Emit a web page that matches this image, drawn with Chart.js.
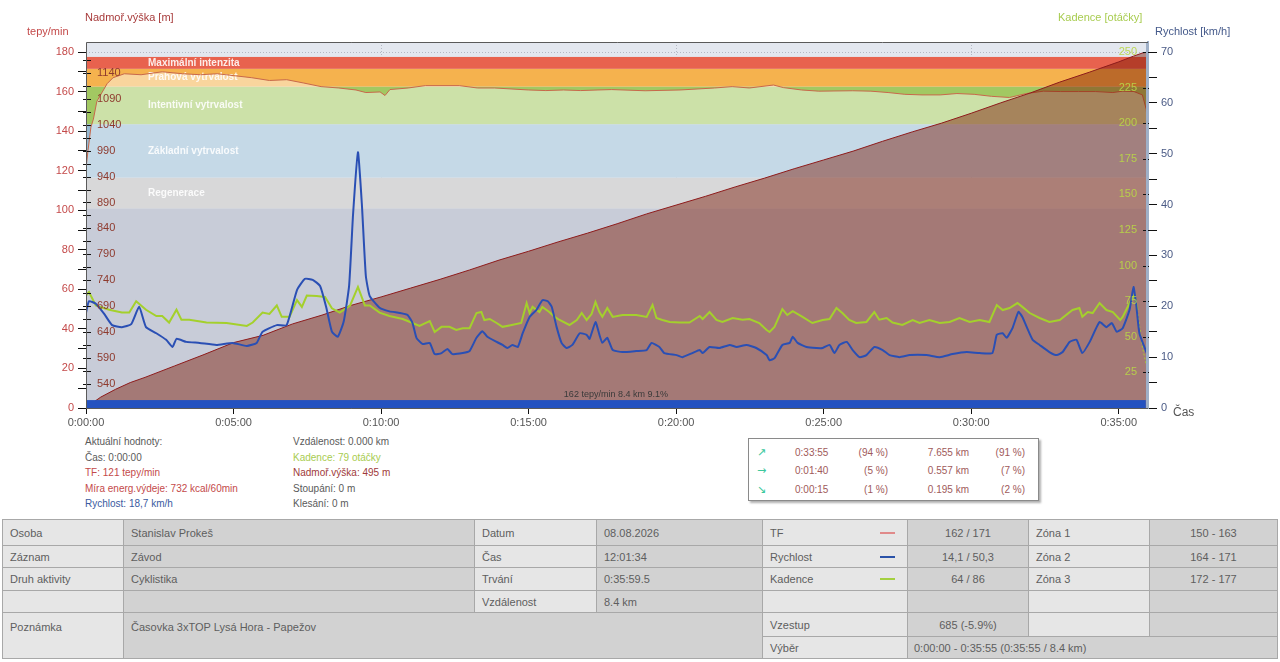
<!DOCTYPE html>
<html lang="cs">
<head>
<meta charset="utf-8">
<title>Záznam - Časovka 3xTOP Lysá Hora - Papežov</title>
<script src="https://cdn.jsdelivr.net/npm/chart.js@4.4.0/dist/chart.umd.min.js"></script>
<style>
  body { margin: 0; background: #fff; font-family: "Liberation Sans", Arial, sans-serif; }
  #wrap { position: relative; width: 1280px; height: 662px; overflow: hidden; }
  #chart { position: absolute; left: 0; top: 0; }
  .info { position: absolute; top: 434px; font-size: 10px; line-height: 15.5px; color: #5a5a5a; white-space: nowrap; }
  .red { color: #c44a4a; }
  .dred { color: #a03a3a; }
  .blue { color: #3a5aa0; }
  .green { color: #a8cc50; }
  #box { position: absolute; left: 748px; top: 438px; width: 289px; height: 61px; border: 1px solid #8a8a8a; box-shadow: 2px 2px 2px #b0b0b0; font-size: 10px; color: #a05a5a; }
  #box .r { position: absolute; left: 0; width: 100%; height: 18px; line-height: 18px; }
  #box span { position: absolute; white-space: nowrap; }
  #box .ar { left: 8px; color: #3cc89c; font-family: "DejaVu Sans", sans-serif; font-size: 11px; }
  #tbl { position: absolute; left: 2px; top: 519px; width: 1275px; border-collapse: collapse; table-layout: fixed; font-size: 11px; color: #5e5e5e; border: 1px solid #8e8e8e; }
  #tbl td { border: 1px solid #a8a8a8; padding: 0 0 0 7px; white-space: nowrap; overflow: hidden; }
  #tbl .l { background: #e6e6e6; }
  #tbl .v { background: #d2d2d2; }
  #tbl .c { text-align: center; padding-left: 0; }
  #tbl .top { vertical-align: top; padding-top: 8px; }
  .sw { position: relative; }
  .sw i { position: absolute; right: 12px; top: 50%; width: 15px; height: 2px; margin-top: -1px; }
</style>
</head>
<body>
<div id="wrap">
  <canvas id="chart" width="1280" height="432"></canvas>

  <div class="info" style="left:85px">
    <div>Aktuální hodnoty:</div>
    <div>Čas: 0:00:00</div>
    <div class="red">TF: 121 tepy/min</div>
    <div class="red">Míra energ.výdeje: 732 kcal/60min</div>
    <div class="blue">Rychlost: 18,7 km/h</div>
  </div>
  <div class="info" style="left:293px">
    <div>Vzdálenost: 0.000 km</div>
    <div class="green">Kadence: 79 otáčky</div>
    <div class="dred">Nadmoř.výška: 495 m</div>
    <div>Stoupání: 0 m</div>
    <div>Klesání: 0 m</div>
  </div>

  <div id="box">
    <div class="r" style="top:5px"><span class="ar">↗</span><span style="left:46px">0:33:55</span><span style="right:150px">(94 %)</span><span style="right:69px">7.655 km</span><span style="right:13px">(91 %)</span></div>
    <div class="r" style="top:23px"><span class="ar">→</span><span style="left:46px">0:01:40</span><span style="right:150px">(5 %)</span><span style="right:69px">0.557 km</span><span style="right:13px">(7 %)</span></div>
    <div class="r" style="top:42px"><span class="ar">↘</span><span style="left:46px">0:00:15</span><span style="right:150px">(1 %)</span><span style="right:69px">0.195 km</span><span style="right:13px">(2 %)</span></div>
  </div>

  <table id="tbl">
    <colgroup>
      <col style="width:121px"><col style="width:351px"><col style="width:122px"><col style="width:166px">
      <col style="width:145px"><col style="width:121px"><col style="width:121px"><col style="width:128px">
    </colgroup>
    <tr style="height:26px">
      <td class="l">Osoba</td><td class="v">Stanislav Prokeš</td><td class="l">Datum</td><td class="v">08.08.2026</td>
      <td class="l sw">TF<i style="background:#e08a8a"></i></td><td class="v c">162 / 171</td><td class="l">Zóna 1</td><td class="v c">150 - 163</td>
    </tr>
    <tr style="height:22px">
      <td class="l">Záznam</td><td class="v">Závod</td><td class="l">Čas</td><td class="v">12:01:34</td>
      <td class="l sw">Rychlost<i style="background:#2a52a8"></i></td><td class="v c">14,1 / 50,3</td><td class="l">Zóna 2</td><td class="v c">164 - 171</td>
    </tr>
    <tr style="height:23px">
      <td class="l">Druh aktivity</td><td class="v">Cyklistika</td><td class="l">Trvání</td><td class="v">0:35:59.5</td>
      <td class="l sw">Kadence<i style="background:#a4d040"></i></td><td class="v c">64 / 86</td><td class="l">Zóna 3</td><td class="v c">172 - 177</td>
    </tr>
    <tr style="height:22px">
      <td class="l"></td><td class="v"></td><td class="l">Vzdálenost</td><td class="v">8.4 km</td>
      <td class="l"></td><td class="v"></td><td class="l"></td><td class="v"></td>
    </tr>
    <tr style="height:24px">
      <td class="l top" rowspan="2">Poznámka</td><td class="v top" colspan="3" rowspan="2">Časovka 3xTOP Lysá Hora - Papežov</td>
      <td class="l">Vzestup</td><td class="v c">685 (-5.9%)</td><td class="l"></td><td class="v"></td>
    </tr>
    <tr style="height:22px">
      <td class="l">Výběr</td><td class="v" colspan="3" style="padding-left:6px">0:00:00 - 0:35:55 (0:35:55 / 8.4 km)</td>
    </tr>
  </table>
</div>

<script>
// Tepová frekvence (čas v sekundách, tepy/min)
const hrTime = [0,4,10,15,22,29,43,55,78,112,155,196,233,267,302,337,373,408,443,478,514,549,569,598,608,618,655,690,759,796,831,900,935,971,1006,1041,1069,1137,1208,1278,1314,1349,1398,1418,1455,1490,1559,1596,1631,1665,1700,1737,1771,1806,1841,1878,1912,1947,1982,2018,2053,2088,2108,2131,2148,2156,2159];
const hrBpm = [121,130,142,146,155,158,164,167,169,168.5,170,169,168.5,169,168,167,165.6,166,164.3,162.5,161.8,160.8,159.5,159.8,158,161,161.8,163,163,161.8,161.8,160.8,160.5,160.8,160.5,160.8,161,160.4,160.8,161.8,162.5,161.8,163.3,162,160.8,160.2,160.4,160.2,159.5,158.6,158.3,158.3,159,158.6,157.6,157,159,160.2,160,160,160,159.5,160.2,160,158.3,151,140];

// Rychlost (km/h)
const speedTime = [0,6,20,37,53,73,92,108,122,143,163,176,184,204,231,265,298,327,347,359,388,408,429,445,461,476,488,500,512,524,535,543,553,561,569,
    577,597,617,638,654,664,672,684,699,709,723,735,745,766,780,794,806,816,835,847,857,867,878,888,902,916,928,939,947,957,
    967,977,989,1004,1018,1024,1036,1044,1050,1060,1071,1091,1119,1140,1150,1166,1176,1201,1213,1233,1248,1254,1268,1288,1309,1323,1343,1363,1384,1390,
    1400,1416,1431,1437,1447,1465,1485,1498,1512,1522,1532,1547,1559,1573,1587,1603,1620,1634,1654,1675,1709,1736,1762,1791,1817,1843,1852,1864,1872,1884,
    1896,1904,1913,1925,1939,1959,1974,1986,2000,2014,2026,2041,2061,2075,2086,2096,2108,2122,2130,2136,2142,2157];
const speedKmh = [18.7,21,20.5,18.5,16.3,15.9,16.5,19.9,15.9,14.7,13.4,12.0,13.6,13.0,12.8,12.4,12.8,12.2,12.8,15,16.3,16.3,23.2,25.4,25.2,24,20,15,14,17,24,38,50.3,40,26,
    22,19.7,19,18.7,18.3,16.7,13.8,12.6,12.8,10.6,10.8,11.6,10.6,10.8,11.2,13.8,15.1,14,13,12.4,11.8,12.4,12,14.7,17.9,19.3,21.2,21,19.9,15.9,
    12.8,11.8,12.4,14.7,14.4,13.6,16.9,14.4,12.8,13.8,11.4,11,11.2,11.4,12.8,12,10.8,10.4,10,10.8,11.4,10.8,12,11.8,12.4,12,12.4,11.8,10.4,9.4,
    9.8,12.4,12.8,14,12.8,12,11.8,11.8,12.4,10.8,12.4,13,11.4,10,10.4,12,11.4,10.4,10,10.4,10.4,10,10.6,11,10.8,10.8,14.4,14.7,13.8,15.7,
    18.9,17.9,15.9,13.4,12.4,11,10.4,11,13,13.4,10.8,13,16.9,15.9,16.7,15,15.7,19.3,23.8,19.9,14.7,10.8];

// Kadence (otáčky)
const cadTime = [0,6,20,47,73,88,102,122,143,155,169,184,194,210,245,286,327,339,359,373,388,398,414,429,439,449,469,486,500,516,537,553,567,
    577,597,617,644,664,678,699,709,723,739,753,766,780,794,804,810,821,835,847,861,885,896,902,908,922,928,942,953,963,983,
    998,1008,1018,1028,1036,1044,1050,1060,1071,1091,1119,1140,1152,1160,1172,1187,1207,1227,1248,1254,1268,1282,1294,1315,1335,1349,1369,1384,1390,1400,
    1416,1426,1437,1457,1477,1498,1512,1526,1538,1552,1566,1587,1603,1613,1628,1640,1660,1681,1695,1715,1736,1756,1776,1797,1817,1837,1852,1864,1878,1894,
    1904,1919,1939,1959,1980,2006,2020,2026,2037,2047,2061,2075,2088,2103,2108,2122,2132,2138,2148,2157];
const cadRpm = [79,81.5,72,69,67,67,75,69,64.6,64.6,60,69,62,62,60,59.7,57.6,60,67,66,72,64,64,75.8,71,79,78.7,78,70,67,72,85,72,
    72,67,64.6,62.5,59.7,57.6,61,53.4,57,57,54.8,56,56,66.7,67.4,61.8,62.5,59.7,57,58,59.7,73.7,66.7,71,67.4,71,67.4,64,61.8,58.3,
    61.8,66.7,61.8,66,74.4,67.4,64,70.2,64,65.3,65.3,64,72.3,63.2,61.8,60.4,60,60,64.6,62.5,67.4,61.8,60.4,63.2,62,62.5,59.7,54.8,53.4,57,
    69.5,65.3,68,64,59.7,61.8,62.5,70.2,66.7,61.8,59.7,60.4,67.4,62,63.2,60,58.3,61.8,59.7,61.8,59.7,60.4,63.2,60.4,61.8,60.4,72.3,68.8,70.2,73.7,
    71,66.7,63.2,60.4,61.8,68.8,70.2,64,67.4,66.7,73.7,68.8,67.4,61.8,64,73.7,79.4,68.8,42.8,28.8];

// Nadmořská výška (m)
const elevTime = [0,30,60,90,120,180,240,300,360,420,480,540,600,660,720,780,840,900,960,1020,1080,1140,1200,1260,1320,1380,1440,1500,1560,1620,1680,1740,1800,1860,1920,1980,2040,2100,2130,2148,2159];
const elevM = [495,515,530,543,553,575,597,620,634,656,673,692,708,725,742,760,779,796,814,831,849,868,885,902,920,937,955,972,989,1008,1026,1043,1062,1082,1101,1122,1141,1161,1172,1178,1180];

// Zóny TF
const zoneNames = ['Regenerace', 'Základní vytrvalost', 'Intentivní vytrvalost', 'Prahová vytrvalost', 'Maximální intenzita'];
const zoneLow = [101, 116.5, 143.5, 162.5, 171.5];
const zoneHigh = [116.5, 143.5, 162.5, 171.5, 177.5];
const zoneColors = ['rgb(184,184,186)', 'rgb(150,186,212)', 'rgb(162,200,98)', 'rgb(245,178,78)', 'rgb(232,98,78)'];

// Osy
const hrTicks = [0,10,20,30,40,50,60,70,80,90,100,110,120,130,140,150,160,170,180];
const speedTicks = [0,5,10,15,20,25,30,35,40,45,50,55,60,65,70];
const cadTicks = [25,50,75,100,125,150,175,200,225,250];
const elevTicks = [540,590,640,690,740,790,840,890,940,990,1040,1090,1140];
const timeTicks = [0,300,600,900,1200,1500,1800,2100];
const gridTimes = [600,1200,1800];
const duration = 2159.5;

// Výběr
const selection = [0, 2155];
const selectionText = '162 tepy/min 8.4 km 9.1%';

const FONT = '"Liberation Sans", Arial, sans-serif';
Chart.defaults.font.family = FONT;
Chart.defaults.font.size = 11;

function fmtTime(s) {
    const p = n => String(n).padStart(2, '0');
    return Math.floor(s / 3600) + ':' + p(Math.floor(s % 3600 / 60)) + ':' + p(Math.round(s % 60));
}
const toXY = (ts, vs) => ts.map((t, i) => ({ x: t, y: vs[i] }));

const decor = {
    id: 'decor',
    beforeDatasetsDraw(chart) {
        const { ctx, chartArea: a, scales } = chart;
        const y = scales.y, x = scales.x;
        ctx.save();
        ctx.fillStyle = '#e3e7ef';
        ctx.fillRect(a.left, a.top, a.width, a.height);

        // tečkovaná mřížka
        ctx.strokeStyle = '#b4b8c4';
        ctx.lineWidth = 1;
        ctx.setLineDash([1, 2]);
        ctx.beginPath();
        const y180 = Math.round(y.getPixelForValue(180)) + 0.5;
        ctx.moveTo(a.left, y180); ctx.lineTo(a.right, y180);
        gridTimes.forEach(t => {
            const px = Math.round(x.getPixelForValue(t)) + 0.5;
            ctx.moveTo(px, a.top); ctx.lineTo(px, a.bottom);
        });
        ctx.stroke();
        ctx.setLineDash([]);

        const yb = y.getPixelForValue(zoneLow[0]);
        ctx.fillStyle = 'rgb(155,162,184)';
        ctx.fillRect(a.left, yb, a.width, a.bottom - yb);
        zoneLow.forEach((lo, i) => {
            const top = y.getPixelForValue(zoneHigh[i]);
            const bot = y.getPixelForValue(lo);
            ctx.fillStyle = zoneColors[i];
            ctx.fillRect(a.left, top, a.width, bot - top);
        });

        ctx.font = 'bold 10px ' + FONT;
        ctx.fillStyle = 'rgba(255,255,255,0.88)';
        ctx.textBaseline = 'middle';
        zoneNames.forEach((n, i) => {
            const cy = (y.getPixelForValue(zoneLow[i]) + y.getPixelForValue(zoneHigh[i])) / 2;
            ctx.fillText(n, a.left + 62, cy);
        });
        ctx.restore();
    },
    afterDatasetsDraw(chart) {
        const { ctx, chartArea: a, scales } = chart;
        const y = scales.y, x = scales.x, ye = scales.yElev, yc = scales.yCad;
        ctx.save();

        // pruh výběru
        const x0 = x.getPixelForValue(selection[0]);
        const x1 = x.getPixelForValue(selection[1]);
        const yt = y.getPixelForValue(4);
        ctx.fillStyle = '#2452c0';
        ctx.fillRect(x0, yt, x1 - x0, a.bottom - yt);
        ctx.font = '9px ' + FONT;
        ctx.fillStyle = '#3a3a3a';
        ctx.textAlign = 'center';
        ctx.textBaseline = 'alphabetic';
        ctx.fillText(selectionText, (x0 + x1) / 2, yt - 3);

        // popisky výšky a kadence uvnitř grafu
        ctx.strokeStyle = '#111';
        ctx.lineWidth = 1;
        ctx.beginPath();
        elevTicks.forEach(v => {
            [v, v + 25].forEach(w => {
                const py = Math.round(ye.getPixelForValue(w)) + 0.5;
                if (py > a.top + 2) { ctx.moveTo(a.left - 3, py); ctx.lineTo(a.left + 5, py); }
            });
        });
        cadTicks.forEach(v => {
            const py = Math.round(yc.getPixelForValue(v)) + 0.5;
            ctx.moveTo(a.right - 5, py); ctx.lineTo(a.right + 1, py);
        });
        ctx.stroke();

        ctx.font = '11px ' + FONT;
        ctx.textBaseline = 'middle';
        ctx.textAlign = 'left';
        ctx.fillStyle = '#8e3a2e';
        elevTicks.forEach(v => ctx.fillText(String(v), a.left + 11, ye.getPixelForValue(v)));
        ctx.textAlign = 'right';
        ctx.fillStyle = 'rgba(184,214,72,0.92)';
        cadTicks.forEach(v => ctx.fillText(String(v), a.right - 11, yc.getPixelForValue(v)));

        // rámeček
        ctx.strokeStyle = '#5a5a5a';
        ctx.beginPath();
        ctx.moveTo(a.left + 0.5, a.bottom); ctx.lineTo(a.left + 0.5, a.top + 0.5); ctx.lineTo(a.right, a.top + 0.5);
        ctx.moveTo(a.left, a.bottom + 0.5); ctx.lineTo(a.right, a.bottom + 0.5);
        ctx.stroke();
        ctx.strokeStyle = '#9fb0c8';
        ctx.lineWidth = 2;
        ctx.beginPath();
        ctx.moveTo(a.right - 1, a.top + 1); ctx.lineTo(a.right - 1, a.bottom);
        ctx.stroke();
        ctx.restore();
    },
    afterDraw(chart) {
        const { ctx, chartArea: a } = chart;
        ctx.save();
        ctx.font = '11px ' + FONT;
        ctx.textBaseline = 'middle';
        ctx.fillStyle = '#a83c3c';
        ctx.fillText('Nadmoř.výška [m]', 85, 18);
        ctx.fillStyle = '#c44a4a';
        ctx.fillText('tepy/min', 27, 32);
        ctx.fillStyle = '#a8cc50';
        ctx.fillText('Kadence [otáčky]', 1058, 18);
        ctx.fillStyle = '#44598a';
        ctx.fillText('Rychlost [km/h]', 1155, 32);
        ctx.fillStyle = '#555';
        ctx.font = '12px ' + FONT;
        ctx.fillText('Čas', 1173, a.bottom + 5);
        ctx.restore();
    }
};

const hrMax = 180 * 366 / 356;
const speedMax = 70 * 366 / 356;
const cadMax = 250 * 366 / 356;
const elevMin = 494;
const elevMax = elevMin + (1180 - elevMin) * 366 / 356;

new Chart(document.getElementById('chart').getContext('2d'), {
    type: 'line',
    data: {
        datasets: [{
            label: 'Rychlost',
            data: toXY(speedTime, speedKmh),
            yAxisID: 'ySpeed',
            borderColor: '#2a4fb4',
            borderWidth: 2,
            pointRadius: 0,
            tension: 0.15,
            fill: false
        }, {
            label: 'Kadence',
            data: toXY(cadTime, cadRpm),
            yAxisID: 'yCad',
            borderColor: '#a4d02c',
            borderWidth: 2,
            pointRadius: 0,
            fill: false,
            segment: {
                borderDash: c => c.p1DataIndex >= cadTime.length - 2 ? [2, 2] : undefined,
                borderWidth: c => c.p1DataIndex >= cadTime.length - 2 ? 1 : undefined
            }
        }, {
            label: 'Nadmořská výška',
            data: toXY(elevTime, elevM),
            yAxisID: 'yElev',
            borderColor: '#8e1c1c',
            borderWidth: 1,
            backgroundColor: 'rgba(120,20,0,0.45)',
            fill: 'origin',
            pointRadius: 0
        }, {
            label: 'TF',
            data: toXY(hrTime, hrBpm),
            yAxisID: 'y',
            borderColor: '#c8684a',
            borderWidth: 1,
            backgroundColor: 'rgba(255,255,255,0.45)',
            fill: 'origin',
            pointRadius: 0
        }]
    },
    options: {
        responsive: false,
        animation: false,
        events: [],
        devicePixelRatio: 1,
        layout: { padding: { top: 42, left: 0, right: 0, bottom: 0 } },
        plugins: {
            legend: { display: false },
            tooltip: { enabled: false }
        },
        scales: {
            x: {
                type: 'linear',
                min: 0,
                max: duration,
                afterBuildTicks: s => { s.ticks = timeTicks.map(v => ({ value: v })); },
                afterFit: s => { s.height = 24; },
                ticks: { callback: v => fmtTime(v), color: '#555', autoSkip: false, maxRotation: 0, padding: 2 },
                grid: { drawOnChartArea: false, tickLength: 6, tickColor: '#111', color: '#111' },
                border: { color: '#5a5a5a' }
            },
            y: {
                position: 'left',
                min: 0,
                max: hrMax,
                afterBuildTicks: s => { s.ticks = hrTicks.map(v => ({ value: v })); },
                afterFit: s => { s.width = 86; },
                ticks: { callback: v => v % 20 === 0 ? v : '', color: '#c44a4a', autoSkip: false, padding: 4 },
                grid: { drawOnChartArea: false, tickLength: 8, tickColor: '#111', color: '#111' },
                border: { color: '#5a5a5a' }
            },
            ySpeed: {
                position: 'right',
                min: 0,
                max: speedMax,
                afterBuildTicks: s => { s.ticks = speedTicks.map(v => ({ value: v })); },
                afterFit: s => { s.width = 132; },
                ticks: { callback: v => v % 10 === 0 ? v : '', color: '#4a5a85', autoSkip: false, padding: 4 },
                grid: { drawOnChartArea: false, tickLength: 9, tickColor: '#111', color: '#111' },
                border: { color: '#9fb0c8', width: 2 }
            },
            yCad: { display: false, min: 0, max: cadMax },
            yElev: { display: false, min: elevMin, max: elevMax }
        }
    },
    plugins: [decor]
});
</script>
</body>
</html>
